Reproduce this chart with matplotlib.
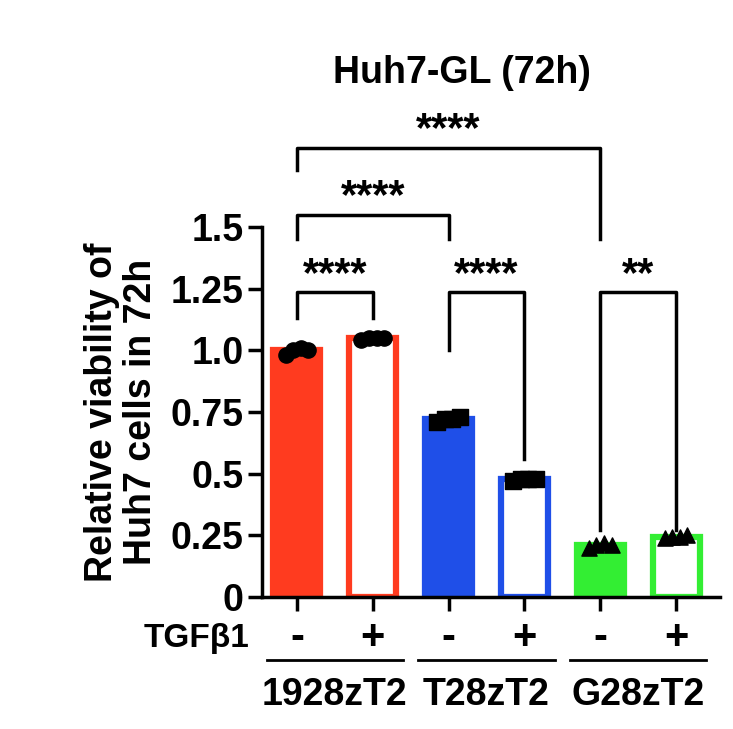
import matplotlib
matplotlib.use("Agg")
import matplotlib.pyplot as plt

plt.rcParams["font.family"] = "Liberation Sans"
plt.rcParams["font.weight"] = "bold"

groups = ["1928zT2", "T28zT2", "G28zT2"]
tgf = ["-", "+", "-", "+", "-", "+"]
values = [1.0, 1.05, 0.72, 0.48, 0.21, 0.245]
colors = ["#FF3B1F", "#FF3B1F", "#1F4FE8", "#1F4FE8", "#33EE33", "#33EE33"]
markers = ["o", "o", "s", "s", "^", "^"]
filled = [True, False, True, False, True, False]
points = [[0.98, 1.0, 1.01, 1.0], [1.04, 1.05, 1.05, 1.05], [0.71, 0.72, 0.72, 0.73],
          [0.47, 0.48, 0.48, 0.48], [0.20, 0.21, 0.22, 0.21], [0.24, 0.245, 0.245, 0.25]]
yticks = [0, 0.25, 0.5, 0.75, 1.0, 1.25, 1.5]
yticklabels = ["0", "0.25", "0.5", "0.75", "1.0", "1.25", "1.5"]
# (x1, x2, y_bar, y_left_end, y_right_end, label)
brackets = [(0, 1, 1.236, 1.13, 1.13, "****"), (2, 3, 1.236, 1.0, 0.56, "****"),
            (4, 5, 1.236, 0.27, 0.27, "**"), (0, 2, 1.549, 1.45, 1.45, "****"),
            (0, 4, 1.82, 1.73, 1.45, "****")]

fig = plt.figure(figsize=(7.33, 7.29), dpi=100)
ax = fig.add_axes([262/733, 1-597/729, (720-262)/733, 370/729])
x = list(range(6))
for i in x:
    ax.bar(i, values[i], width=0.62, color=colors[i] if filled[i] else "white",
           edgecolor=colors[i], linewidth=4.5, zorder=2)
    offs = [-0.15, -0.05, 0.05, 0.15][:len(points[i])]
    ax.scatter([i + o for o in offs], points[i], marker=markers[i], s=120,
               color="black", zorder=3, clip_on=False)
ax.set_xlim(-0.46, 5.58)
ax.set_ylim(0, 1.5)
ax.set_yticks(yticks)
ax.set_yticklabels(yticklabels, fontsize=27, fontweight="bold")
ax.set_xticks(x)
ax.set_xticklabels([])
ax.tick_params(axis="both", width=2.5, length=10)
for s in ["top", "right"]:
    ax.spines[s].set_visible(False)
ax.spines["left"].set_linewidth(2.5)
ax.spines["bottom"].set_linewidth(2.5)
ax.set_ylabel("Relative viability of\nHuh7 cells in 72h", fontsize=27, fontweight="bold",
              labelpad=8, linespacing=1.1)

for x1, x2, yb, yl, yr, lab in brackets:
    ax.plot([x1, x1, x2, x2], [yl, yb, yb, yr], color="black", lw=2.5, clip_on=False)
    ax.text((x1 + x2) / 2, yb - 0.01, lab, ha="center", va="bottom", fontsize=30, fontweight="bold")

ax.text(2.18, 2.05, "Huh7-GL (72h)", ha="center", va="bottom", fontsize=27, fontweight="bold")

for i in x:
    fig.text((297 + 75.8 * i) / 733, 1 - 638/729, tgf[i], ha="center", va="center",
             fontsize=30, fontweight="bold")
fig.text(196/733, 1 - 638/729, "TGFβ1", ha="center", va="center", fontsize=24, fontweight="bold")
for g in range(3):
    cx = (297 + 75.8 * (2 * g + 0.5)) / 733
    fig.add_artist(plt.Line2D([cx - 68/733, cx + 68/733], [1 - 660/729] * 2, color="black", lw=2))
    fig.text(cx, 1 - 695/729, groups[g], ha="center", va="center", fontsize=27, fontweight="bold")

fig.savefig("out.png", dpi=100)
